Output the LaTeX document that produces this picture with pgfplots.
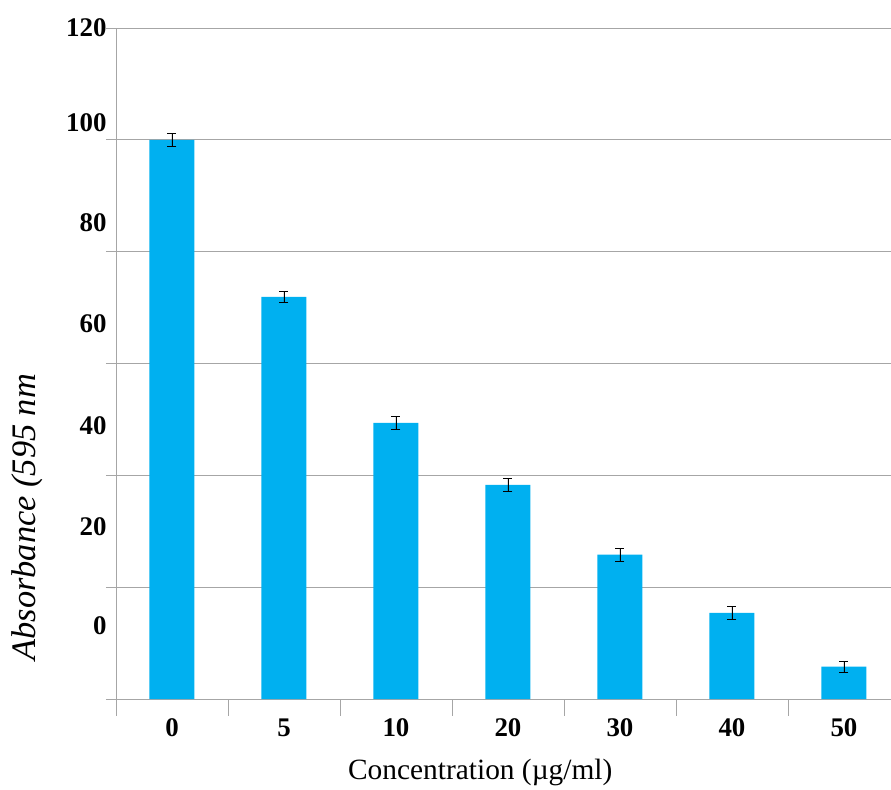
\documentclass[border=0pt]{standalone}
\usepackage{pgfplots}
\pgfplotsset{compat=1.18}
\usepackage{fontspec}
\setmainfont{Liberation Serif}
\definecolor{barcyan}{HTML}{00B0F0}
\definecolor{gridgrey}{HTML}{A6A6A6}
\begin{document}
\begin{tikzpicture}
\useasboundingbox (0,0) rectangle (891bp,790bp);
\begin{axis}[
  at={(116bp,91bp)}, anchor=south west,
  scale only axis, width=775bp, height=671bp,
  xmin=-0.5, xmax=6.42, ymin=0, ymax=120,
  axis x line*=bottom, axis y line*=left,
  axis line style={gridgrey, line width=0.8pt},
  xtick={0,1,2,3,4,5,6},
  xticklabels={0,5,10,20,30,40,50},
  minor xtick={-0.5,0.5,1.5,2.5,3.5,4.5,5.5},
  major x tick style={draw=none},
  minor x tick style={gridgrey, line width=0.6pt},
  minor tick length=17bp,
  tick align=outside,
  ytick={0,20,40,60,80,100,120},
  yticklabels={,,,,,,},
  ymajorgrids,
  grid style={gridgrey, line width=0.8pt},
  major y tick style={gridgrey, line width=0.8pt},
  major tick length=10bp,
  extra y ticks={13.2,30.8,48.9,67.2,85.1,103.0,120},
  extra y tick labels={0,20,40,60,80,100,120},
  extra y tick style={grid=none, major tick length=0pt, tick style={draw=none}},
  ticklabel style={font=\fontsize{27}{30}\selectfont\bfseries},
  yticklabel style={xshift=-6bp},
  xticklabel style={yshift=-6bp},
  xlabel={Concentration (µg/ml)},
  xlabel style={font=\fontsize{29.5}{34}\selectfont, at={(axis description cs:0.47,-0.110)}, anchor=center},
  ylabel={\itshape Absorbance (595 nm},
  ylabel style={font=\fontsize{34.5}{38}\selectfont, at={(axis description cs:-0.115,0.271)}, anchor=center, rotate=0},
  clip=false,
]
\addplot[ybar, bar width=45bp, fill=barcyan, draw=none,
  error bars/.cd, y dir=both, y explicit,
  error bar style={black, line width=0.7pt},
  error mark options={rotate=90, mark size=4.5bp, black, line width=0.7pt}]
  coordinates {
    (0,100.0) +- (0,1.1)
    (1,71.9) +- (0,1.0)
    (2,49.4) +- (0,1.1)
    (3,38.3) +- (0,1.1)
    (4,25.8) +- (0,1.1)
    (5,15.4) +- (0,1.1)
    (6,5.8) +- (0,1.0)
  };
\end{axis}
\end{tikzpicture}
\end{document}
